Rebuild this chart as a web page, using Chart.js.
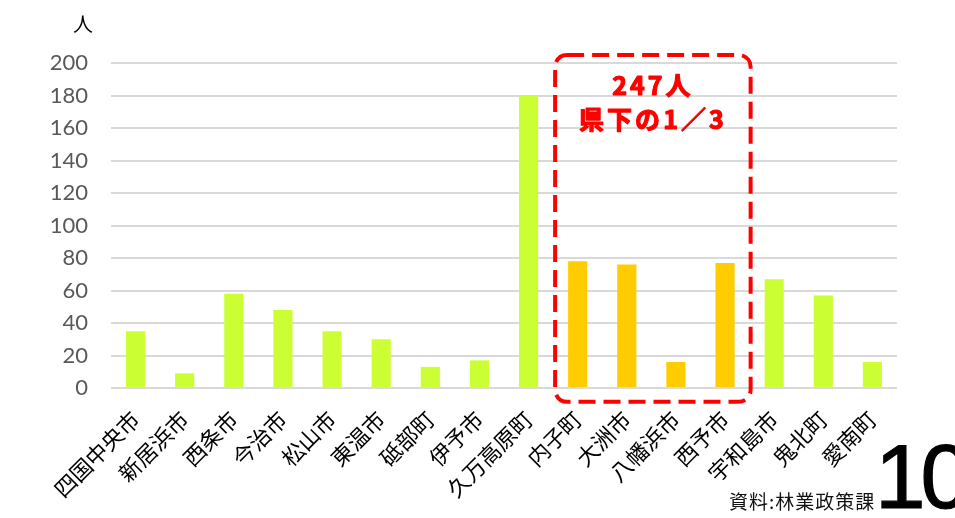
<!DOCTYPE html>
<html>
<head>
<meta charset="utf-8">
<script src="https://cdn.jsdelivr.net/npm/chart.js@4/dist/chart.umd.min.js"></script>
<style>
  html, body { margin: 0; padding: 0; background: #fff; }
  #wrap { position: relative; width: 955px; height: 518px; overflow: hidden; }
  #src { position: absolute; left: 729px; top: 487px; font: 19px "Noto Sans CJK JP"; color: #111; letter-spacing: 1px; white-space: nowrap; }
  #page { position: absolute; left: 875px; top: 431px; font: 91px "Liberation Sans"; line-height: 91px; color: #000; letter-spacing: -5px; white-space: nowrap; -webkit-text-stroke: 1.2px #000; }
</style>
</head>
<body>
<div id="wrap">
  <canvas id="chart" width="955" height="518"></canvas>
  <div id="src">資料:林業政策課</div>
  <div id="page">10</div>
</div>
<script>
// ----- data -----
const towns = ["四国中央市", "新居浜市", "西条市", "今治市", "松山市", "東温市", "砥部町", "伊予市",
  "久万高原町", "内子町", "大洲市", "八幡浜市", "西予市", "宇和島市", "鬼北町", "愛南町"];
const workers = [35, 9, 58, 48, 35, 30, 13, 17, 180, 78, 76, 16, 77, 67, 57, 16];
const highlighted = ["内子町", "大洲市", "八幡浜市", "西予市"];
const yTicks = [0, 20, 40, 60, 80, 100, 120, 140, 160, 180, 200];
const noteLines = ["247人", "県下の1／3"];

const GREEN = "#ccff33";
const ORANGE = "#ffcc00";

// ----- unit label + dashed box annotation -----
const annotate = {
  id: "annotate",
  afterDraw(chart) {
    const { ctx, scales: { x, y } } = chart;
    ctx.save();
    // unit
    ctx.fillStyle = "#000";
    ctx.font = '20px "Noto Sans CJK JP"';
    ctx.textAlign = "center";
    ctx.textBaseline = "middle";
    ctx.fillText("人", x.left - 28, 24);

    // dashed box round the highlighted towns
    const first = towns.indexOf(highlighted[0]);
    const last = towns.indexOf(highlighted[highlighted.length - 1]);
    const left = x.getPixelForValue(first - 0.5) + 2;
    const right = x.getPixelForValue(last + 0.5) + 1;
    const top = y.getPixelForValue(205);
    const bottom = y.getPixelForValue(-8.5);
    ctx.strokeStyle = "#ff0000";
    ctx.lineWidth = 4;
    ctx.setLineDash([17, 8]);
    ctx.beginPath();
    ctx.roundRect(left, top, right - left, bottom - top, 12);
    ctx.stroke();

    // note text, a bit heavier than plain bold
    ctx.setLineDash([]);
    ctx.fillStyle = "#ff0000";
    ctx.lineWidth = 1.2;
    ctx.lineJoin = "round";
    ctx.font = 'bold 25px "Noto Sans CJK JP"';
    ctx.letterSpacing = "3px";
    const cx = (left + right) / 2;
    [[noteLines[0], 186], [noteLines[1], 165]].forEach(([t, v]) => {
      ctx.fillText(t, cx, y.getPixelForValue(v));
      ctx.strokeText(t, cx, y.getPixelForValue(v));
    });
    ctx.restore();
  }
};

Chart.defaults.font.family = '"Noto Sans CJK JP", sans-serif';

new Chart(document.getElementById("chart"), {
  type: "bar",
  data: {
    labels: towns,
    datasets: [{
      data: workers,
      backgroundColor: towns.map(t => highlighted.includes(t) ? ORANGE : GREEN),
      barPercentage: 0.39,
      categoryPercentage: 1
    }]
  },
  options: {
    responsive: false,
    animation: false,
    layout: { padding: { top: 63, right: 58, left: 0, bottom: 0 } },
    plugins: { legend: { display: false }, tooltip: { enabled: false } },
    scales: {
      x: {
        grid: { display: false },
        border: { display: false },
        ticks: {
          color: "#000",
          font: { size: 22 },
          minRotation: 45,
          maxRotation: 45,
          padding: 10
        },
        afterFit(scale) { scale.height = 130; }
      },
      y: {
        min: 0,
        max: 200,
        afterBuildTicks(scale) { scale.ticks = yTicks.map(v => ({ value: v })); },
        grid: { color: "#d9d9d9", lineWidth: 2, drawTicks: false },
        border: { display: false },
        ticks: {
          color: "#595959",
          font: { family: "Lato", size: 22 },
          padding: 23
        },
        afterFit(scale) { scale.width = 111; }
      }
    }
  },
  plugins: [annotate]
});
</script>
</body>
</html>
